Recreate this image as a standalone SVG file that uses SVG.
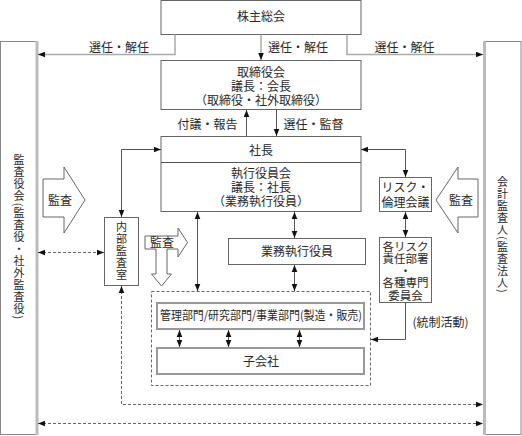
<svg xmlns="http://www.w3.org/2000/svg" width="522" height="436" viewBox="0 0 522 436">
<defs>
<marker id="ah" viewBox="0 0 10 10" refX="10" refY="5" markerWidth="7" markerHeight="7" markerUnits="userSpaceOnUse" orient="auto-start-reverse">
<path d="M0,1 L10,5 L0,9 z" fill="#111"/>
</marker>
<style>
text{font-family:"Noto Sans CJK JP","Noto Sans",sans-serif;font-size:12px;fill:#2a2a2a;text-anchor:middle}
.box{fill:#fff;stroke:#666;stroke-width:1}
.gbox{fill:#fff;stroke:#999;stroke-width:2}
.side{fill:#fff;stroke:#888;stroke-width:1}
.edge{stroke:#bbb;stroke-width:3}
.hol{fill:#fff;stroke:#666;stroke-width:1}
.c{fill:none;stroke:#555;stroke-width:1}
.cg{fill:none;stroke:#aaa;stroke-width:1.5}
.d{fill:none;stroke:#666;stroke-width:1;stroke-dasharray:3,2}
.v{writing-mode:vertical-rl;font-size:11px;letter-spacing:1px}
.s{font-size:11.5px}
</style>
</defs>

<g id="kansayakukai">
<rect class="side" x="0.5" y="41.5" width="37" height="393"/>
<line class="edge" x1="37" y1="41" x2="37" y2="435"/>
<text class="v" x="19" y="237.5">監査役会(監査役・社外監査役)</text>
</g>

<g id="kaikeikansanin">
<rect class="side" x="484" y="41.5" width="37" height="393"/>
<line class="edge" x1="484.5" y1="41" x2="484.5" y2="435"/>
<text class="v" x="502.5" y="235">会計監査人(監査法人)</text>
</g>

<g id="kabunushi">
<rect class="box" x="161" y="0.5" width="200" height="34"/>
<text x="261" y="21">株主総会</text>
</g>

<g id="torishimariyakukai">
<rect class="box" x="161" y="60.5" width="200" height="49"/>
<text x="261" y="77">取締役会<tspan x="261" dy="14">議長：会長</tspan><tspan x="261" dy="14">（取締役・社外取締役）</tspan></text>
</g>

<g id="shacho">
<rect class="box" x="161" y="136.5" width="200" height="75"/>
<line class="c" x1="161" y1="162.5" x2="361" y2="162.5"/>
<text x="261" y="155">社長</text>
<text x="261" y="178">執行役員会<tspan x="261" dy="14">議長：社長</tspan><tspan x="261" dy="14">（業務執行役員）</tspan></text>
</g>

<g id="naibukansa">
<rect class="box" x="104.5" y="217.5" width="34" height="68"/>
<text class="v" x="121.5" y="251">内部監査室</text>
</g>

<g id="gyomushikko">
<rect class="box" x="228.5" y="238.5" width="137" height="26"/>
<text x="297" y="256">業務執行役員</text>
</g>

<g id="risk">
<rect class="box" x="379.5" y="177.5" width="52" height="34"/>
<text x="405.5" y="192">リスク・<tspan x="405.5" dy="15">倫理会議</tspan></text>
</g>

<g id="kakurisk">
<rect class="box" x="379.5" y="237.5" width="52" height="65"/>
<text class="s" x="405.5" y="251">各リスク<tspan x="405.5" dy="12">責任部署</tspan><tspan x="405.5" dy="12">・</tspan><tspan x="405.5" dy="12">各種専門</tspan><tspan x="405.5" dy="12.5">委員会</tspan></text>
</g>

<g id="group">
<rect class="d" x="151.5" y="291.5" width="219" height="94"/>
</g>

<g id="bumon">
<rect class="gbox" x="157" y="303" width="207" height="26"/>
<text x="261" y="320" textLength="202" lengthAdjust="spacingAndGlyphs">管理部門/研究部門/事業部門(製造・販売)</text>
</g>

<g id="kogaisha">
<rect class="gbox" x="157" y="348" width="207" height="26"/>
<text x="261" y="366">子会社</text>
</g>

<g id="kansa-left">
<polygon class="hol" points="43,179 64,179 64,167 85,200 64,233 64,217 43,217"/>
<text x="60" y="205">監査</text>
</g>

<g id="kansa-right">
<polygon class="hol" points="478,179 458,179 458,167 436,200 458,233 458,217 478,217"/>
<text x="461" y="205">監査</text>
</g>

<g id="kansa-mid">
<polygon class="hol" points="145,236 178,236 178,228 187.5,242.5 178,257 178,249 167,249 167,274 171.5,274 161.5,286 151.5,274 156,274 156,249 145,249"/>
<text x="162" y="247">監査</text>
</g>

<g id="connectors">
<path class="cg" d="M175,34.5 V54.5 H38" marker-end="url(#ah)"/>
<path class="cg" d="M261,34.5 V60" marker-end="url(#ah)"/>
<path class="cg" d="M347,34.5 V54.5 H483" marker-end="url(#ah)"/>
<path class="c" d="M246.5,136 V110" marker-end="url(#ah)"/>
<path class="c" d="M276.5,110 V136" marker-end="url(#ah)"/>
<path class="c" d="M161,149.5 H121.5 V217" marker-start="url(#ah)" marker-end="url(#ah)"/>
<path class="c" d="M361,149.5 H405.5 V177" marker-start="url(#ah)" marker-end="url(#ah)"/>
<path class="c" d="M405.5,212 V237" marker-start="url(#ah)" marker-end="url(#ah)"/>
<path class="c" d="M294.5,212 V238" marker-start="url(#ah)" marker-end="url(#ah)"/>
<path class="c" d="M294.5,265 V291" marker-start="url(#ah)" marker-end="url(#ah)"/>
<path class="c" d="M197.5,212 V291" marker-start="url(#ah)" marker-end="url(#ah)"/>
<path class="c" d="M179.5,330 V347" marker-start="url(#ah)" marker-end="url(#ah)"/>
<path class="c" d="M228.5,330 V347" marker-start="url(#ah)" marker-end="url(#ah)"/>
<path class="c" d="M299.5,330 V347" marker-start="url(#ah)" marker-end="url(#ah)"/>
<path class="c" d="M405.5,303 V339.5 H371" marker-end="url(#ah)"/>
<path class="d" d="M38,252.5 H104" marker-start="url(#ah)" marker-end="url(#ah)"/>
<path class="d" d="M121.5,286 V404.5 H483" marker-start="url(#ah)" marker-end="url(#ah)"/>
<path class="d" d="M38,423.5 H483" marker-start="url(#ah)" marker-end="url(#ah)"/>
<text x="119" y="52">選任・解任</text>
<text x="298" y="52">選任・解任</text>
<text x="404.5" y="52">選任・解任</text>
<text x="207.5" y="129">付議・報告</text>
<text x="313.5" y="129">選任・監督</text>
<text x="440.5" y="327">(統制活動)</text>
</g>
</svg>
